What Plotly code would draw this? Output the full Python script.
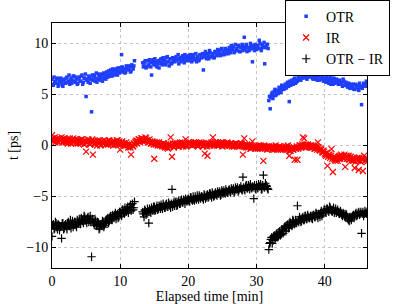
import plotly.graph_objects as go

# sampling grids: 0.0 .. 46.2 min every 0.2 min, and the interleaved 0.1 .. 46.1 samples
t_a = [round(0.2 * i, 1) for i in range(232)]
t_b = [round(0.1 + 0.2 * i, 1) for i in range(231)]

N = None
otr_a = [
    6.5, 5.9, 6.3, 6.1, 6.6, 6.0, 6.4, 6.2, 5.8, 6.5,
    6.1, 6.7, 6.3, 6.0, 6.6, 6.4, 6.8, 6.2, 6.5, 6.1,
    6.7, 6.3, 6.9, 6.2, 6.6, 4.8, 6.5, 6.8, 6.1, 3.3,
    6.4, 6.9, 6.6, 6.2, 7.0, 6.5, 6.8, 6.3, 7.1, 6.6,
    7.2, 6.7, 7.0, 7.4, 6.8, 7.3, 7.0, 7.5, 6.9, 7.3,
    7.6, 8.9, 7.2, 7.5, 7.2, 7.7, 7.4, 7.8, 7.3, 7.7,
    7.8, N, N, N, N, N, N, 7.7, 8.2, 7.6,
    8.3, 7.8, 8.1, 6.9, 8.4, 7.9, 8.2, 7.7, 8.3, 8.0,
    8.5, 7.9, 8.3, 8.0, 8.6, 8.2, 7.8, 8.5, 8.1, 8.4,
    8.2, 8.7, 8.4, 8.0, 8.6, 8.3, 8.8, 8.1, 8.6, 8.4,
    8.8, 8.3, 8.6, 8.4, 8.9, 8.5, 8.2, 8.7, 8.4, 8.9,
    8.6, 7.4, 8.9, 8.6, 9.0, 8.5, 9.1, 8.7, 8.9, 8.6,
    9.2, 8.8, 9.3, 9.0, 9.4, 8.9, 9.2, 9.5, 9.0, 9.3,
    9.6, 9.1, 9.4, 9.7, 9.2, 9.5, 9.3, 9.8, 9.2, 9.6,
    9.3, 10.6, 9.7, 9.2, 9.6, 9.4, 9.8, 8.2, 9.5, 9.9,
    9.4, 9.8, 10.3, 9.5, 9.9, 9.6, 8.0, 9.7, 9.9, 4.4,
    3.6, 5.0, 4.6, 5.3, 4.9, 5.4, 5.1, 5.6, 5.2, 5.7,
    5.5, 6.0, 5.7, 6.2, 4.3, 5.9, 6.4, 6.0, 6.6, 6.2,
    6.3, 6.8, 6.5, 7.0, 6.6, 7.3, 6.7, 6.5, 7.1, 6.8,
    7.0, 6.6, 6.9, 6.5, 7.2, 6.7, 6.4, 6.9, 6.6, 6.3,
    6.6, 6.2, 6.5, 6.1, 6.7, 6.3, 6.0, 6.5, 6.2, 6.4,
    6.0, 6.4, 6.1, 5.8, 6.3, 5.9, 6.1, 5.7, 6.0, 5.8,
    5.6, 6.0, 5.5, 5.8, 5.9, 5.4, 5.7, 4.0, 5.8, 6.0,
    5.8, 6.1,
]
otr_b = [
    6.0, 6.7, 6.2, 6.5, 5.8, 6.3, 6.6, 5.9, 6.4, 6.1,
    6.6, 6.2, 6.9, 6.4, 6.1, 6.8, 6.3, 6.7, 6.0, 6.6,
    6.3, 6.8, 6.0, 6.6, 7.0, 6.4, 6.2, 6.7, 6.5, 6.9,
    6.7, 6.3, 7.1, 6.5, 6.8, 6.4, 7.0, 6.6, 6.9, 6.5,
    6.9, 7.3, 6.8, 7.1, 7.5, 6.9, 7.4, 7.2, 7.6, 7.1,
    7.3, 7.7, 7.4, 7.1, 7.8, 7.5, 7.6, 7.2, 7.9, 7.5,
    8.3, N, N, N, N, N, 8.1, 7.9, 8.3, 7.7,
    7.9, 8.4, 7.7, 8.2, 8.0, 8.5, 7.8, 8.1, 7.6, 8.4,
    8.1, 8.6, 8.3, 7.9, 8.7, 8.2, 8.5, 8.0, 8.6, 8.3,
    8.6, 8.3, 8.9, 8.5, 8.2, 8.7, 8.4, 8.9, 8.3, 8.7,
    8.5, 8.9, 8.2, 8.7, 8.4, 9.0, 8.6, 8.3, 8.9, 8.6,
    9.0, 8.7, 9.2, 8.5, 8.8, 9.3, 8.7, 9.0, 8.6, 9.2,
    8.9, 9.4, 9.1, 8.8, 9.5, 9.2, 8.9, 9.4, 9.3, 9.0,
    9.3, 9.8, 9.5, 9.1, 9.9, 9.4, 9.7, 9.2, 9.6, 9.9,
    9.7, 9.4, 9.9, 9.6, 9.3, 10.0, 9.5, 9.8, 9.3, 9.7,
    9.7, 9.5, 10.0, 9.3, 9.8, 10.1, 9.6, 9.9, 9.5, 4.8,
    4.7, 5.2, 4.9, 5.5, 5.0, 5.3, 5.7, 5.4, 5.9, 5.5,
    5.8, 5.6, 6.1, 5.8, 6.3, 6.0, 6.2, 6.5, 6.1, 6.4,
    6.6, 6.9, 6.4, 6.7, 7.1, 6.9, 6.6, 7.0, 6.7, 7.2,
    6.8, 6.5, 7.1, 6.7, 6.4, 6.8, 7.0, 6.5, 6.7, 6.4,
    6.4, 6.7, 6.3, 6.5, 6.0, 6.4, 6.6, 6.1, 6.5, 6.2,
    6.3, 6.0, 6.2, 6.5, 5.9, 6.2, 5.8, 6.1, 5.6, 6.0,
    5.8, 5.5, 6.0, 5.7, 5.5, 6.1, 5.8, 5.6, 6.1, 5.9,
    6.3,
]

ir_a = [
    1.0, 0.4, 0.8, 0.5, 0.7, 0.3, 0.6, 0.8, 0.4, 0.6,
    0.3, 0.6, 0.4, 0.7, 0.2, 0.5, 0.3, 0.6, 0.4, 0.2,
    0.5, 0.2, 0.6, 0.3, 0.4, -0.6, 0.3, 0.5, 0.1, 0.4,
    -0.9, 0.2, 0.4, 0.0, 0.3, 0.5, 0.1, 0.4, 0.2, 0.3,
    0.4, 0.1, 0.5, 0.2, 0.3, 0.0, 0.4, 0.2, 0.5, 0.1,
    -0.4, 0.3, 0.1, 0.2, 0.0, 0.1, -0.2, -0.1, -0.9, 0.0,
    0.2, 0.3, 0.5, 0.4, 0.6, 0.5, 0.7, 0.6, 0.4, 0.7,
    0.5, 0.3, 0.4, 0.2, 0.3, -1.3, 0.1, 0.3, 0.2, 0.0,
    0.1, -0.1, 0.2, -0.2, 0.0, -0.3, 0.1, 0.8, -1.1, -0.1,
    0.2, 0.0, 0.1, -0.1, 0.3, 0.1, -0.1, 0.2, 0.6, 0.0,
    0.3, 0.1, 0.2, 0.0, 0.3, 0.1, 0.2, -0.1, 0.3, 0.1,
    0.2, -0.1, -0.8, 0.1, -1.0, 0.2, 0.0, 0.3, 0.8, 0.1,
    0.3, 0.0, 0.2, 0.1, 0.3, -0.1, 0.2, 0.1, 0.0, 0.2,
    0.1, 0.2, -0.1, 0.1, 0.0, 0.2, -0.1, 0.1, 0.0, 0.2,
    -0.9, 0.7, -0.1, 0.1, -0.2, 0.0, -0.3, 0.4, -0.1, -0.3,
    -0.1, -0.3, -0.2, 0.0, -0.3, -1.5, -0.1, -0.2, -0.4, -0.1,
    -0.3, -0.1, -0.2, -0.4, 0.0, -0.3, -0.2, -0.1, -0.4, -0.2,
    -0.2, -0.4, -0.3, 0.0, -1.0, -0.5, -0.2, -0.4, -1.4, -0.3,
    -1.4, -0.2, 0.0, -0.1, 0.8, 0.7, 0.1, -0.1, 0.0, -0.2,
    0.0, -0.2, -0.1, -0.3, -0.2, 0.3, -0.4, -0.3, -0.6, -0.5,
    -0.8, -1.0, -2.0, -0.9, -1.2, -0.35, -2.6, -1.3, -1.5, -1.3,
    -1.2, -1.0, -0.9, -1.1, -1.3, -2.1, -1.0, -1.2, -1.4, -1.1,
    -1.3, -1.5, -2.2, -1.4, -1.2, -2.4, -1.5, -1.3, -2.5, -1.0,
    -1.4, -1.6,
]
ir_b = [
    0.7, 0.5, 0.3, 0.6, 0.4, 0.7, 0.5, 0.3, 0.7, 0.4,
    0.5, 0.2, 0.6, 0.3, 0.5, 0.7, 0.4, 0.2, 0.6, 0.5,
    0.3, 0.6, 0.4, 0.1, 0.5, 0.3, 0.6, 0.2, 0.4, 0.6,
    0.4, 0.1, 0.3, 0.5, 0.2, 0.0, 0.4, 0.2, 0.5, 0.1,
    0.2, 0.5, 0.3, 0.1, 0.4, 0.3, 0.1, 0.5, 0.2, 0.4,
    0.1, 0.4, 0.2, 0.0, 0.3, 0.0, 0.1, -0.2, 0.0, -0.1,
    0.1, 0.4, 0.2, 0.6, 0.3, 0.7, 0.4, 0.5, 0.8, 0.5,
    0.3, 0.6, 0.2, 0.4, 0.1, 0.3, 0.2, 0.0, 0.3, 0.1,
    0.0, 0.2, -0.1, 0.1, -0.2, 0.1, -0.1, 0.0, 0.2, -0.2,
    0.0, 0.2, -0.1, 0.2, 0.0, 0.3, 0.0, 0.1, -0.1, 0.2,
    0.1, 0.3, 0.0, 0.2, 0.1, 0.3, 0.0, 0.2, 0.1, 0.3,
    0.0, 0.2, 0.1, -0.1, 0.2, 0.0, 0.2, 0.1, 0.0, 0.3,
    0.1, 0.3, 0.0, 0.2, 0.1, 0.3, 0.0, 0.2, 0.3, 0.0,
    0.0, 0.2, 0.1, -0.1, 0.2, 0.0, 0.1, -0.1, 0.2, 0.0,
    -0.1, 0.1, -0.2, 0.0, -0.1, -0.3, -0.1, -0.2, 0.0, -0.2,
    -0.2, 0.0, -0.3, -0.1, -0.2, 0.0, -0.3, -0.1, -0.2, -0.3,
    -0.2, -0.4, -0.1, -0.3, -0.2, -0.4, -0.1, -0.3, -0.2, -0.4,
    -0.3, -0.1, -0.4, -0.2, -0.5, -0.3, -0.4, -0.2, -0.3, -0.1,
    -0.3, 0.0, -0.2, 0.1, -0.1, 0.0, -0.2, 0.1, -0.1, 0.0,
    -0.2, 0.0, -0.3, -0.1, -0.4, -0.2, -0.5, -0.4, -0.7, -0.6,
    -0.9, -0.7, -1.1, -0.9, -1.0, -1.3, -1.1, -1.4, -1.2, -1.5,
    -1.1, -1.3, -1.0, -1.2, -0.9, -1.1, -1.3, -1.0, -1.3, -1.5,
    -1.4, -1.2, -1.6, -1.3, -1.5, -1.2, -1.6, -1.4, -1.3, -1.5,
    -1.3,
]

otr_ir_a = [
    -8.9, -7.7, -8.1, -7.6, -8.2, -7.8, -8.0, -9.1, -7.6, -8.1,
    -7.7, -8.2, -7.5, -7.9, -8.1, -7.4, -7.8, -7.5, -8.0, -7.6,
    -7.2, -7.7, -7.3, -7.6, -7.0, -7.4, -7.1, -7.5, -6.9, -10.9,
    -7.3, -7.8, -7.4, -7.9, -7.6, -8.1, -7.7, -7.4, -8.0, -7.6,
    -7.5, -7.1, -7.4, -6.9, -7.3, -7.0, -6.8, -7.2, -6.7, -7.0,
    -6.5, -6.9, -6.3, -6.7, -6.4, -6.2, -6.6, -6.0, -6.4, -5.7,
    -6.1, N, N, N, N, N, N, -6.7, -6.3, -6.8,
    -6.2, -7.6, -6.5, -6.1, -6.4, -6.0, -6.3, -5.9, -6.2, -6.0,
    -5.8, -6.2, -5.9, -6.1, -5.7, -6.0, -5.8, -6.1, -4.3, -5.7,
    -5.9, -5.5, -5.8, -5.4, -5.7, -5.3, -5.6, -5.4, -5.2, -5.5,
    -5.2, -5.5, -5.1, -5.4, -5.3, -5.0, -5.3, -5.1, -4.9, -5.2,
    -5.0, -5.3, -4.9, -5.1, -4.8, -5.0, -4.7, -5.1, -4.8, -4.9,
    -4.6, -4.9, -4.7, -4.5, -4.8, -4.6, -4.4, -4.7, -4.5, -4.6,
    -4.3, -4.6, -4.4, -4.2, -4.5, -4.3, -4.1, -4.4, -4.2, -4.3,
    -3.1, -4.3, -4.0, -4.2, -3.9, -4.3, -4.1, -4.0, -5.2, -4.2,
    -3.9, -4.2, -4.0, -3.8, -4.3, -2.9, -4.1, -3.9, -4.2, -10.2,
    -9.5, -9.0, -9.3, -8.8, -9.1, -8.6, -8.9, -8.4, -8.7, -8.3,
    -8.3, -7.9, -8.1, -7.7, -8.0, -7.6, -7.9, -7.4, -7.7, -7.5,
    -5.9, -7.5, -7.2, -7.4, -7.0, -7.3, -6.9, -7.2, -7.0, -7.1,
    -6.9, -7.2, -6.8, -7.0, -6.7, -7.1, -6.8, -6.6, -6.9, -6.5,
    -6.3, -6.6, -6.2, -6.5, -6.1, -6.4, -6.3, -6.6, -6.2, -6.5,
    -6.5, -6.7, -6.6, -6.9, -6.7, -7.0, -6.8, -7.2, -7.4, -7.1,
    -7.0, -6.8, -6.9, -6.6, -6.8, -6.5, -6.7, -8.6, -6.5, -6.7,
    -6.6, -6.5,
]
otr_ir_b = [
    -7.8, -8.2, -7.5, -8.0, -7.7, -8.3, -7.9, -7.6, -8.2, -7.8,
    -8.0, -7.6, -7.9, -7.3, -7.7, -8.0, -7.5, -7.8, -7.3, -7.6,
    -7.5, -7.1, -7.4, -6.9, -7.3, -7.6, -7.0, -7.3, -7.5, -7.2,
    -7.6, -7.2, -7.8, -7.5, -8.2, -7.7, -7.9, -7.5, -7.8, -7.3,
    -7.2, -7.6, -7.0, -7.2, -6.8, -7.1, -6.6, -6.9, -7.1, -6.5,
    -6.7, -6.3, -6.6, -6.1, -6.5, -6.0, -6.3, -5.8, -6.1, -6.3,
    -5.5, N, N, N, N, N, -6.5, -7.0, -6.4, -6.6,
    -6.5, -6.2, -6.6, -6.3, -6.0, -6.4, -6.1, -6.3, -5.9, -6.2,
    -6.0, -5.7, -6.1, -5.8, -6.0, -5.6, -5.9, -5.7, -6.0, -5.5,
    -5.6, -5.9, -5.5, -5.7, -5.4, -5.6, -5.3, -5.7, -5.4, -5.3,
    -5.4, -5.1, -5.3, -5.0, -5.4, -5.2, -4.9, -5.3, -5.1, -5.0,
    -5.1, -4.8, -5.2, -4.9, -5.1, -4.7, -4.9, -4.6, -5.0, -4.7,
    -4.8, -4.5, -4.7, -4.9, -4.4, -4.7, -4.6, -4.3, -4.6, -4.4,
    -4.5, -4.2, -4.4, -4.6, -4.1, -4.3, -4.5, -4.2, -4.0, -4.4,
    -4.1, -4.4, -3.9, -4.2, -4.0, -3.8, -4.2, -4.1, -3.9, -4.3,
    -4.1, -3.8, -4.0, -4.3, -3.9, -4.1, -3.7, -4.0, -4.3, -9.6,
    -9.2, -9.6, -8.9, -9.2, -8.7, -9.0, -8.5, -8.8, -8.2, -8.6,
    -8.0, -8.4, -7.8, -8.1, -7.5, -7.8, -7.3, -7.7, -7.3, -7.6,
    -7.3, -7.0, -7.5, -7.1, -7.3, -6.9, -7.2, -6.8, -7.1, -6.9,
    -7.1, -6.8, -7.0, -6.6, -6.9, -6.7, -7.0, -6.4, -6.7, -6.3,
    -6.5, -6.2, -6.4, -6.0, -6.3, -6.5, -6.1, -6.4, -6.6, -6.3,
    -6.7, -6.4, -6.8, -6.6, -6.9, -6.7, -7.1, -7.3, -7.0, -7.3,
    -6.9, -7.1, -6.7, -6.9, -6.6, -6.8, -6.5, -6.7, -6.9, -6.4,
    -6.7,
]

x_ticks = [0, 10, 20, 30, 40]
y_ticks = [-10, -5, 0, 5, 10]
y_tick_text = ["\u221210", "\u22125", "0", "5", "10"]

FONT = "Liberation Serif, Times New Roman, serif"

fig = go.Figure()
fig.add_trace(go.Scatter(
    x=t_a + t_b, y=otr_a + otr_b, mode="markers", name="OTR",
    marker=dict(symbol="square", size=3.5, color="#1f3fff", line=dict(width=0)),
))
fig.add_trace(go.Scatter(
    x=t_a + t_b, y=ir_a + ir_b, mode="markers", name="IR",
    marker=dict(symbol="x-thin", size=6, color="#ff0000",
                line=dict(width=1.2, color="#ff0000")),
))
fig.add_trace(go.Scatter(
    x=t_a + t_b, y=otr_ir_a + otr_ir_b, mode="markers", name="OTR \u2212 IR",
    marker=dict(symbol="cross-thin", size=6, color="#000000",
                line=dict(width=1.2, color="#000000")),
))

axis_common = dict(
    showline=True, linecolor="black", linewidth=1, mirror="ticks",
    ticks="inside", ticklen=4, tickcolor="black",
    showgrid=True, gridcolor="#c4c4c4", griddash="dot", gridwidth=1,
    zeroline=False, tickfont=dict(family=FONT, size=14, color="black"),
)

fig.update_layout(
    width=404, height=304,
    margin=dict(l=52, r=37, t=23, b=36, autoexpand=False),
    paper_bgcolor="white", plot_bgcolor="white",
    font=dict(family=FONT, size=14, color="black"),
    showlegend=True,
    legend=dict(
        x=0.74, y=1.095, xanchor="left", yanchor="top",
        bgcolor="white", bordercolor="black", borderwidth=1,
        font=dict(family=FONT, size=14, color="black"),
        tracegroupgap=0, itemsizing="trace",
    ),
    xaxis=dict(
        range=[0, 46.2], tickvals=x_ticks,
        title=dict(text="Elapsed time [min]", font=dict(family=FONT, size=14), standoff=2),
        **axis_common,
    ),
    yaxis=dict(
        range=[-12, 12], tickvals=y_ticks, ticktext=y_tick_text,
        title=dict(text="t [ps]", font=dict(family=FONT, size=14), standoff=4),
        **axis_common,
    ),
)

fig.write_html(
    "out.html",
    config={"displayModeBar": False},
    post_script="document.body.style.margin='0';document.body.style.overflow='hidden';",
)
